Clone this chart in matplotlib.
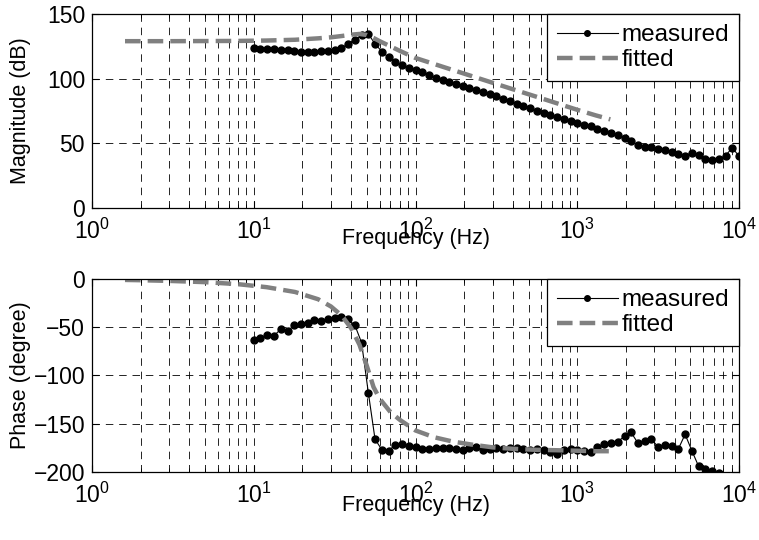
import matplotlib
matplotlib.use('Agg')
import matplotlib.pyplot as plt
from matplotlib.ticker import FixedLocator

plt.rcParams['font.family'] = ['Liberation Sans', 'DejaVu Sans']
plt.rcParams['mathtext.fontset'] = 'custom'
plt.rcParams['mathtext.rm'] = 'Liberation Sans'
plt.rcParams['mathtext.it'] = 'Liberation Sans:italic'
plt.rcParams['mathtext.bf'] = 'Liberation Sans:bold'

FS_LABEL = 15.5
FS_TICK = 16.5
FS_LEG = 17.5

# ---------------- data ----------------
freq_meas = [10.0, 11.0, 12.1, 13.3, 14.7, 16.2, 17.8, 19.6, 21.5, 23.7, 26.1, 28.7,
             31.6, 34.8, 38.3, 42.2, 46.4, 51.1, 56.2, 61.9, 68.1, 75.0, 82.5, 90.9,
             100, 110, 121, 133, 147, 162, 178, 196, 215, 237, 261, 287,
             316, 348, 383, 422, 464, 511, 562, 619, 681, 750, 825, 909,
             1000, 1100, 1210, 1330, 1470, 1620, 1780, 1960, 2150, 2370, 2610, 2870,
             3160, 3480, 3830, 4220, 4640, 5110, 5620, 6190, 6810, 7500, 8250, 9090,
             10000]

mag_meas = [123.5, 123.3, 123.0, 122.6, 122.2, 121.8, 121.3, 120.9, 120.7, 120.8, 121.2, 121.6,
            122.5, 124.0, 126.5, 130.0, 133.5, 134.5, 127.0, 121.0, 116.5, 113.0, 110.5, 108.5,
            106.8, 105.0, 102.5, 100.5, 98.8, 97.5, 96.0, 94.5, 92.8, 91.2, 89.5, 88.0,
            86.3, 84.5, 82.6, 80.5, 78.7, 77.0, 75.3, 73.5, 71.5, 70.0, 68.5, 67.2,
            66.0, 64.5, 63.0, 61.3, 59.7, 58.3, 56.5, 54.0, 51.5, 48.5, 47.5, 46.8,
            45.5, 44.5, 43.5, 41.5, 40.5, 42.5, 41.0, 38.0, 37.0, 37.5, 40.5, 46.5,
            40.0]

freq_phase = freq_meas[:70]
phase_meas = [-63, -61, -58, -59, -52, -54, -48, -47, -46, -43, -44, -42,
              -40, -39, -42, -48, -66, -118, -166, -177, -178, -172, -171, -173,
              -174, -176, -176, -175, -175.5, -175, -176, -177, -175, -174, -177, -176,
              -175.5, -176, -175, -175.5, -176, -177, -176.5, -177, -179, -181, -177, -176,
              -177.5, -178, -179, -174, -171, -170, -168.5, -163, -159, -170, -168, -166,
              -174, -172, -173, -176, -161, -178, -194, -197, -199, -201]

freq_fit = [1.6, 2, 3, 5, 8, 12, 18, 25, 30, 35, 40, 45, 50, 55, 60, 70, 80,
            100, 130, 170, 220, 300, 400, 550, 750, 1000, 1300, 1600]
mag_fit = [129.0, 129.0, 129.0, 129.1, 129.2, 129.5, 130.1, 131.2, 132.0, 133.0, 134.0,
           134.6, 133.8, 131.5, 129.0, 125.0, 121.5, 116.0, 111.4, 106.7, 102.2, 96.8,
           91.8, 86.3, 80.9, 75.9, 71.6, 68.5]
phase_fit = [-1.0, -1.3, -2.0, -3.3, -5.4, -8.5, -13.5, -21, -28.5, -38, -51, -68,
             -90, -112, -124, -138, -146, -157, -164, -168.5, -171.5, -174.5, -176,
             -177, -177.5, -178, -178.5, -178.5]

mag_ticks = [0, 50, 100, 150]
phase_ticks = [-200, -150, -100, -50, 0]

# ---------------- figure ----------------
fig = plt.figure(figsize=(7.59, 5.40), dpi=100)
ax1 = fig.add_axes([0.1212, 0.615, 0.8525, 0.359])
ax2 = fig.add_axes([0.1212, 0.126, 0.8525, 0.3574])

GRID_LS = (0, (9, 7))

def style(ax, yticks, ylim, ylabel, xlab_y):
    ax.set_xscale('log')
    ax.set_xlim(1, 1e4)
    ax.set_ylim(*ylim)
    ax.yaxis.set_major_locator(FixedLocator(yticks))
    ax.grid(True, which='both', axis='x', color='k', lw=0.6, ls=GRID_LS)
    ax.grid(True, which='major', axis='y', color='k', lw=0.6, ls=GRID_LS)
    ax.tick_params(which='both', direction='in', top=True, right=True,
                   labelsize=FS_TICK, color='k')
    ax.tick_params(which='major', length=5, width=0.8)
    ax.tick_params(which='minor', length=3, width=0.6)
    ax.tick_params(axis='x', which='major', pad=8)
    ax.tick_params(axis='y', which='major', pad=5)
    for s in ax.spines.values():
        s.set_linewidth(0.9)
        s.set_color('k')
    ax.set_xlabel('Frequency (Hz)', fontsize=FS_LABEL)
    ax.set_ylabel(ylabel, fontsize=FS_LABEL)
    ax.xaxis.set_label_coords(0.5, xlab_y)
    ax.yaxis.set_label_coords(-0.095, 0.5)

ax1.plot(freq_meas, mag_meas, color='k', lw=0.8, marker='o', ms=5.0, label='measured')
ax1.plot(freq_fit, mag_fit, color='#808080', lw=3.2, ls='--', dashes=(3.5, 1.6), label='fitted')
style(ax1, mag_ticks, (0, 150), 'Magnitude (dB)', -0.105)

ax2.plot(freq_phase, phase_meas, color='k', lw=0.8, marker='o', ms=5.0, label='measured')
ax2.plot(freq_fit, phase_fit, color='#808080', lw=3.2, ls='--', dashes=(3.5, 1.6), label='fitted')
style(ax2, phase_ticks, (-200, 0), 'Phase (degree)', -0.118)

for ax in (ax1, ax2):
    leg = ax.legend(loc='upper right', borderaxespad=0, fancybox=False,
                    edgecolor='k', framealpha=1, fontsize=FS_LEG, handlelength=2.5,
                    handletextpad=0.15, borderpad=0.42, labelspacing=0.12,
                    markerscale=0.8)
    leg.get_frame().set_linewidth(0.9)

fig.savefig('out.png', dpi=100)
